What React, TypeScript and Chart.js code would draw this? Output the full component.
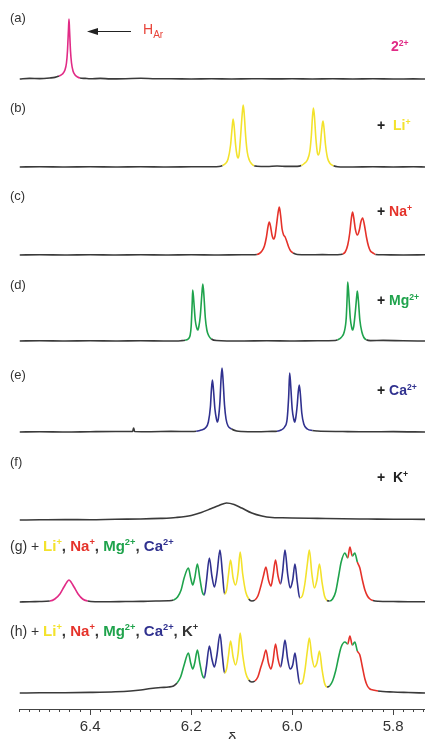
import React, { useEffect, useRef } from 'react';
import { Chart, registerables } from 'chart.js';
Chart.register(...registerables);

// ---- axis ----
const X_MIN = 5.737;
const X_MAX = 6.54;
const majorTicks = [5.8, 6.0, 6.2, 6.4];
const minorTicks = [
  5.74, 5.76, 5.78, 5.8, 5.82, 5.84, 5.86, 5.88, 5.9, 5.92, 5.94, 5.96, 5.98, 6.0,
  6.02, 6.04, 6.06, 6.08, 6.1, 6.12, 6.14, 6.16, 6.18, 6.2, 6.22, 6.24, 6.26, 6.28,
  6.3, 6.32, 6.34, 6.36, 6.38, 6.4, 6.42, 6.44, 6.46, 6.48, 6.5, 6.52, 6.54,
];

// ---- spectra: [delta (ppm), intensity above own baseline] ----
const specA: [number, number][] = [
  [6.54, 0], [6.52, 0.6], [6.5, 0.4], [6.48, 1.0], [6.47, 1.6], [6.462, 3], [6.455, 5], [6.45, 9],
  [6.447, 16], [6.445, 28], [6.443, 50], [6.442, 60], [6.441, 50], [6.439, 28], [6.437, 16],
  [6.434, 8], [6.43, 4], [6.425, 2], [6.42, 1], [6.41, 0.6], [6.4, 0.2], [6.38, 0.6], [6.36, 0.1],
  [6.33, 0.3], [6.3, 0.7], [6.27, 0.2], [6.24, 0.3], [6.2, 0], [6.16, 0.2], [6.12, 0], [6.08, 0.3],
  [6.04, 0.1], [6.0, 0.2], [5.96, 0], [5.92, 0.2], [5.88, 0], [5.84, 0.2], [5.8, 0], [5.76, 0.1], [5.737, 0],
];
const specB: [number, number][] = [
  [6.54, 0], [6.5, 0.3], [6.45, 0], [6.4, 0.2], [6.35, 0], [6.3, 0.3], [6.25, 0], [6.2, 0.2], [6.16, 0.3],
  [6.145, 0.5], [6.138, 1.5], [6.132, 3.5], [6.127, 8], [6.122, 22], [6.119, 39], [6.117, 48], [6.115, 41],
  [6.112, 22], [6.109, 11], [6.107, 9], [6.105, 13], [6.102, 32], [6.099, 53], [6.097, 62], [6.095, 53],
  [6.092, 30], [6.089, 15], [6.085, 7], [6.08, 3], [6.075, 1.2], [6.07, 0.8], [6.05, 0.5], [6.03, 1],
  [6.01, 0.6], [5.99, 0.6], [5.982, 1.4], [5.976, 3.5], [5.97, 7], [5.965, 16], [5.962, 32], [5.96, 49],
  [5.958, 59], [5.956, 51], [5.953, 28], [5.95, 14], [5.948, 12], [5.945, 18], [5.942, 35], [5.94, 44],
  [5.939, 46], [5.937, 39], [5.934, 22], [5.93, 9], [5.925, 3.5], [5.918, 1.2], [5.91, 0.3], [5.88, 0],
  [5.84, 0.2], [5.8, 0], [5.76, 0.2], [5.737, 0],
];
const specC: [number, number][] = [
  [6.54, 0], [6.5, 0.2], [6.45, 0], [6.4, 0.3], [6.35, 0], [6.3, 0.2], [6.25, 0], [6.2, 0.3], [6.15, 0],
  [6.1, 0.3], [6.08, 0.2], [6.07, 0.5], [6.065, 1.5], [6.06, 4], [6.055, 9], [6.051, 18], [6.048, 28],
  [6.0455, 33], [6.043, 29], [6.04, 20], [6.037, 16], [6.034, 19], [6.031, 30], [6.028, 42], [6.0255, 48],
  [6.023, 40], [6.02, 26], [6.017, 20], [6.014, 18], [6.011, 14], [6.007, 8], [6.003, 4], [5.998, 2],
  [5.99, 0.5], [5.97, 0.2], [5.94, 0.4], [5.915, 0.2], [5.905, 0.5], [5.9, 1], [5.895, 3], [5.89, 10],
  [5.886, 22], [5.883, 36], [5.8805, 43], [5.878, 37], [5.875, 26], [5.871, 20], [5.867, 25], [5.864, 33],
  [5.8605, 37], [5.857, 30], [5.853, 18], [5.849, 9], [5.845, 4], [5.84, 2], [5.835, 0.5], [5.82, 0.2],
  [5.78, 0], [5.737, 0.2],
];
const specD: [number, number][] = [
  [6.54, 0], [6.5, 0.3], [6.45, 0], [6.4, 0.2], [6.35, 0], [6.3, 0.3], [6.25, 0], [6.22, 0.3],
  [6.212, 0.8], [6.205, 2.5], [6.202, 6], [6.2, 15], [6.198, 38], [6.197, 51], [6.195, 41], [6.192, 21],
  [6.189, 13], [6.187, 11], [6.185, 14], [6.182, 25], [6.179, 46], [6.177, 57], [6.175, 47], [6.172, 23],
  [6.169, 11], [6.165, 5], [6.16, 2], [6.15, 0.5], [6.1, 0], [6.05, 0.3], [6.0, 0], [5.95, 0.3],
  [5.915, 0.5], [5.91, 1.2], [5.903, 3.5], [5.897, 9], [5.893, 23], [5.891, 46], [5.89, 59], [5.888, 47],
  [5.885, 23], [5.882, 13], [5.8805, 11], [5.878, 15], [5.875, 29], [5.872, 46], [5.871, 50], [5.869, 41],
  [5.866, 21], [5.862, 9], [5.858, 3.5], [5.853, 1.2], [5.845, 0.4], [5.82, 0.6], [5.78, 0.2], [5.737, 0],
];
const specE: [number, number][] = [
  [6.54, 0], [6.5, 0.3], [6.45, 0], [6.4, 0.3], [6.35, 0.5], [6.316, 0.5], [6.314, 4], [6.312, 0.5],
  [6.28, 0.3], [6.24, 0.6], [6.2, 0.5], [6.19, 0.8], [6.18, 2], [6.172, 4], [6.166, 10], [6.162, 25],
  [6.16, 42], [6.158, 52], [6.156, 43], [6.153, 23], [6.15, 13], [6.148, 10], [6.146, 14], [6.143, 31],
  [6.141, 52], [6.139, 64], [6.137, 53], [6.134, 27], [6.131, 13], [6.127, 6], [6.12, 3], [6.11, 1],
  [6.1, 0.5], [6.07, 0.3], [6.04, 0.6], [6.03, 0.8], [6.022, 2], [6.015, 5], [6.01, 13], [6.007, 35],
  [6.005, 59], [6.003, 47], [6.0, 23], [5.997, 13], [5.995, 10], [5.993, 14], [5.99, 27], [5.988, 40],
  [5.986, 47], [5.984, 39], [5.981, 19], [5.977, 8], [5.97, 3], [5.96, 1.5], [5.95, 1], [5.9, 0.5],
  [5.85, 0.2], [5.8, 0.4], [5.737, 0],
];
const specF: [number, number][] = [
  [6.54, 0], [6.5, 0.2], [6.45, 0.4], [6.4, 0.3], [6.35, 0.8], [6.3, 1], [6.26, 1.6], [6.23, 2.5],
  [6.2, 4.5], [6.18, 7.5], [6.16, 11.5], [6.145, 14.5], [6.13, 17], [6.115, 15.5], [6.1, 12], [6.08, 7],
  [6.06, 4], [6.04, 2.5], [6.02, 2.2], [6.0, 2], [5.95, 1.6], [5.9, 1.2], [5.85, 1], [5.8, 0.8], [5.737, 0.6],
];
const specG: [number, number][] = [
  [6.54, 0], [6.52, 0.3], [6.5, 0.5], [6.48, 1], [6.47, 3], [6.46, 8], [6.452, 15], [6.446, 20],
  [6.442, 22], [6.438, 20], [6.432, 15], [6.424, 8], [6.415, 3], [6.405, 1], [6.39, 0.3], [6.36, 0.2],
  [6.33, 0.5], [6.3, 0.6], [6.27, 1], [6.245, 1.2], [6.235, 2], [6.227, 5], [6.22, 12], [6.214, 24],
  [6.2055, 34], [6.201, 24], [6.197, 17], [6.193, 24], [6.1877, 38], [6.183, 24], [6.178, 10], [6.174, 7],
  [6.17, 20], [6.164, 44], [6.159, 26], [6.154, 15], [6.149, 28], [6.143, 52], [6.138, 28], [6.134, 8],
  [6.13, 12], [6.126, 28], [6.122, 42], [6.117, 24], [6.112, 17], [6.107, 30], [6.103, 50], [6.098, 28],
  [6.092, 10], [6.086, 3], [6.08, 1], [6.074, 2], [6.068, 6], [6.062, 16], [6.057, 26], [6.052, 35],
  [6.047, 22], [6.042, 16], [6.038, 26], [6.033, 42], [6.028, 26], [6.023, 18], [6.019, 30], [6.0143, 52],
  [6.009, 28], [6.004, 14], [5.999, 22], [5.9945, 38], [5.99, 20], [5.985, 4], [5.98, 6], [5.975, 18],
  [5.97, 38], [5.966, 52], [5.961, 28], [5.956, 14], [5.951, 22], [5.946, 38], [5.941, 20], [5.936, 6],
  [5.931, 1.5], [5.926, 1], [5.92, 3], [5.914, 10], [5.908, 26], [5.903, 40], [5.8955, 49], [5.89, 44],
  [5.8857, 55], [5.881, 46], [5.876, 49], [5.871, 40], [5.866, 34], [5.861, 22], [5.856, 12], [5.851, 6],
  [5.846, 3], [5.84, 1.5], [5.83, 0.8], [5.8, 0.5], [5.77, 0.3], [5.737, 0.3],
];
const specH: [number, number][] = [
  [6.54, 0], [6.5, 0.2], [6.45, 0.3], [6.4, 0.6], [6.35, 1.2], [6.32, 2], [6.3, 3], [6.28, 4.5],
  [6.26, 5.5], [6.245, 6], [6.235, 7], [6.228, 10], [6.221, 16], [6.214, 28], [6.2055, 40], [6.201, 30],
  [6.197, 24], [6.193, 30], [6.1877, 43], [6.183, 30], [6.178, 18], [6.174, 15], [6.17, 26], [6.164, 47],
  [6.159, 34], [6.154, 26], [6.149, 38], [6.143, 59], [6.138, 36], [6.134, 20], [6.13, 24], [6.126, 38],
  [6.122, 52], [6.117, 36], [6.112, 28], [6.107, 40], [6.103, 60], [6.098, 38], [6.092, 20], [6.086, 13],
  [6.08, 11], [6.074, 12], [6.068, 16], [6.062, 26], [6.057, 34], [6.052, 43], [6.047, 30], [6.042, 24],
  [6.038, 32], [6.033, 49], [6.028, 34], [6.023, 26], [6.019, 36], [6.0143, 53], [6.009, 34], [6.004, 24],
  [5.999, 28], [5.9945, 40], [5.99, 24], [5.985, 9], [5.98, 10], [5.975, 22], [5.97, 42], [5.966, 55],
  [5.961, 36], [5.956, 26], [5.951, 30], [5.946, 42], [5.941, 24], [5.936, 10], [5.931, 6], [5.926, 7],
  [5.92, 12], [5.914, 22], [5.908, 36], [5.903, 46], [5.8955, 51], [5.89, 49], [5.8857, 57], [5.881, 48],
  [5.876, 51], [5.871, 42], [5.866, 38], [5.861, 26], [5.856, 14], [5.851, 7], [5.846, 4], [5.84, 3],
  [5.83, 2], [5.8, 1], [5.77, 0.5], [5.737, 0],
];

// colour ranges per spectrum: [high delta, low delta, colour key]
type Range = [number, number, string];
const rangesA: Range[] = [[6.465, 6.42, 'pink']];
const rangesB: Range[] = [[6.14, 6.076, 'yellow'], [5.982, 5.916, 'yellow']];
const rangesC: Range[] = [[6.07, 6.0, 'red'], [5.9, 5.836, 'red']];
const rangesD: Range[] = [[6.212, 6.16, 'green'], [5.912, 5.855, 'green']];
const rangesE: Range[] = [[6.19, 6.122, 'blue'], [6.028, 5.957, 'blue']];
const rangesF: Range[] = [];
const rangesG: Range[] = [
  [6.48, 6.4, 'pink'], [6.236, 6.175, 'green'], [6.175, 6.133, 'blue'], [6.133, 6.086, 'yellow'],
  [6.072, 6.024, 'red'], [6.024, 5.985, 'blue'], [5.985, 5.93, 'yellow'], [5.924, 5.889, 'green'],
  [5.889, 5.882, 'red'], [5.882, 5.871, 'green'], [5.871, 5.838, 'red'],
];
const rangesH: Range[] = [
  [6.226, 6.175, 'green'], [6.175, 6.133, 'blue'], [6.133, 6.084, 'yellow'],
  [6.076, 6.024, 'red'], [6.024, 5.985, 'blue'], [5.985, 5.931, 'yellow'], [5.926, 5.889, 'green'],
  [5.889, 5.882, 'red'], [5.882, 5.871, 'green'], [5.871, 5.835, 'red'],
];

const spectra = [specA, specB, specC, specD, specE, specF, specG, specH];
const colourRanges = [rangesA, rangesB, rangesC, rangesD, rangesE, rangesF, rangesG, rangesH];
// vertical stacking offsets (layout)
const offsets = [630, 542, 454, 368, 277, 189, 107, 16];

const COLORS: Record<string, string> = {
  base: '#3a3a3a',
  pink: '#e12b86',
  yellow: '#f3e22c',
  red: '#e5322a',
  green: '#1fa34c',
  blue: '#30318f',
};

const FONT = '"Liberation Sans", Arial, Helvetica, sans-serif';

const extrasPlugin = {
  id: 'extras',
  afterDraw(chart: any) {
    const { ctx, chartArea, scales } = chart;
    const x = scales.x;
    const y = scales.y;
    ctx.save();
    ctx.strokeStyle = '#444';
    ctx.lineWidth = 1;
    for (const v of majorTicks) {
      const px = Math.round(x.getPixelForValue(v)) + 0.5;
      ctx.beginPath();
      ctx.moveTo(px, chartArea.bottom);
      ctx.lineTo(px, chartArea.bottom + 6);
      ctx.stroke();
    }
    // arrow pointing at the H_Ar peak of spectrum (a)
    const peakX = x.getPixelForValue(6.442);
    const ay = Math.round(y.getPixelForValue(offsets[0] + 48)) + 0.5;
    const tip = peakX + 18;
    ctx.strokeStyle = '#222';
    ctx.fillStyle = '#222';
    ctx.beginPath();
    ctx.moveTo(tip + 8, ay);
    ctx.lineTo(tip + 44, ay);
    ctx.stroke();
    ctx.beginPath();
    ctx.moveTo(tip, ay);
    ctx.lineTo(tip + 11, ay - 3.5);
    ctx.lineTo(tip + 11, ay + 3.5);
    ctx.closePath();
    ctx.fill();
    ctx.restore();
  },
};

function colourAt(ranges: Range[], mid: number) {
  for (const [hi, lo, key] of ranges) {
    if (mid <= hi && mid >= lo) return COLORS[key];
  }
  return COLORS.base;
}

const pos = (left: number, top: number): React.CSSProperties => ({
  position: 'absolute',
  left,
  top,
  transform: 'translateY(-50%)',
  lineHeight: 1,
  whiteSpace: 'nowrap',
});
const sup: React.CSSProperties = { fontSize: '0.62em', verticalAlign: '0.55em' };
const tag: React.CSSProperties = { fontSize: 13, color: '#333' };
const bold = (c: string, size = 14): React.CSSProperties => ({ fontWeight: 'bold', color: c, fontSize: size });

export default function App() {
  const ref = useRef<HTMLCanvasElement>(null);
  useEffect(() => {
    document.body.style.margin = '0';
    document.body.style.overflow = 'hidden';
    const datasets = spectra.map((s, i) => {
      const ranges = colourRanges[i];
      return {
        data: s.map(([d, v]) => ({ x: d, y: v + offsets[i] })),
        borderColor: COLORS.base,
        borderWidth: 1.6,
        pointRadius: 0,
        fill: false,
        cubicInterpolationMode: 'monotone' as const,
        segment: {
          borderColor: (ctx: any) => colourAt(ranges, (ctx.p0.parsed.x + ctx.p1.parsed.x) / 2),
        },
      };
    });
    const chart = new Chart(ref.current!, {
      type: 'line',
      data: { datasets },
      plugins: [extrasPlugin],
      options: {
        animation: false,
        responsive: false,
        devicePixelRatio: 1,
        layout: { padding: { left: 19.5, right: 0, top: 0, bottom: 0 } },
        plugins: { legend: { display: false }, tooltip: { enabled: false } },
        scales: {
          x: {
            type: 'linear',
            reverse: true,
            min: X_MIN,
            max: X_MAX,
            afterBuildTicks: (scale: any) => {
              scale.ticks = minorTicks.map((v) => ({ value: v }));
            },
            afterFit: (scale: any) => {
              scale.height = 30;
            },
            grid: { drawOnChartArea: false, tickLength: 3, color: '#444', tickColor: '#444' },
            border: { display: true, color: '#444', width: 1 },
            ticks: {
              autoSkip: false,
              maxRotation: 0,
              padding: 6,
              color: '#333',
              font: { family: FONT, size: 15 },
              callback: (v: any) => {
                const n = Number(v);
                return majorTicks.some((m) => Math.abs(m - n) < 1e-6) ? n.toFixed(1) : '';
              },
            },
          },
          y: { type: 'linear', display: false, min: 0, max: 709 },
        },
      },
    });
    return () => chart.destroy();
  }, []);

  return (
    <div style={{ position: 'relative', width: 425, height: 739, overflow: 'hidden', fontFamily: FONT, color: '#333' }}>
      <canvas ref={ref} width={425} height={739} style={{ display: 'block', position: 'absolute', left: 0, top: 0 }} />
      <span style={{ ...pos(10, 17), ...tag }}>(a)</span>
      <span style={{ ...pos(143, 31), fontSize: 14, color: '#e8453b' }}>
        H<sub style={{ fontSize: '0.72em', verticalAlign: '-0.35em' }}>Ar</sub>
      </span>
      <span style={{ ...pos(391, 46), ...bold(COLORS.pink) }}>
        2<span style={sup}>2+</span>
      </span>

      <span style={{ ...pos(10, 107), ...tag }}>(b)</span>
      <span style={{ ...pos(377, 125), fontSize: 14, fontWeight: 'bold', color: '#222' }}>
        +&nbsp;&nbsp;<span style={bold(COLORS.yellow)}>Li<span style={sup}>+</span></span>
      </span>

      <span style={{ ...pos(10, 195), ...tag }}>(c)</span>
      <span style={{ ...pos(377, 211), fontSize: 14, fontWeight: 'bold', color: '#222' }}>
        + <span style={bold(COLORS.red)}>Na<span style={sup}>+</span></span>
      </span>

      <span style={{ ...pos(10, 284), ...tag }}>(d)</span>
      <span style={{ ...pos(377, 300), fontSize: 14, fontWeight: 'bold', color: '#222' }}>
        + <span style={bold(COLORS.green)}>Mg<span style={sup}>2+</span></span>
      </span>

      <span style={{ ...pos(10, 374), ...tag }}>(e)</span>
      <span style={{ ...pos(377, 390), fontSize: 14, fontWeight: 'bold', color: '#222' }}>
        + <span style={bold(COLORS.blue)}>Ca<span style={sup}>2+</span></span>
      </span>

      <span style={{ ...pos(10, 461), ...tag }}>(f)</span>
      <span style={{ ...pos(377, 477), fontSize: 14, fontWeight: 'bold', color: '#222' }}>
        +&nbsp;&nbsp;K<span style={sup}>+</span>
      </span>

      <span style={{ ...pos(10, 545), fontSize: 14, color: '#333' }}>
        (g) + <span style={bold(COLORS.yellow, 15)}>Li<span style={sup}>+</span></span>
        <b style={{ fontSize: 15 }}>, </b><span style={bold(COLORS.red, 15)}>Na<span style={sup}>+</span></span>
        <b style={{ fontSize: 15 }}>, </b><span style={bold(COLORS.green, 15)}>Mg<span style={sup}>2+</span></span>
        <b style={{ fontSize: 15 }}>, </b><span style={bold(COLORS.blue, 15)}>Ca<span style={sup}>2+</span></span>
      </span>

      <span style={{ ...pos(10, 630), fontSize: 14, color: '#333' }}>
        (h) + <span style={bold(COLORS.yellow, 15)}>Li<span style={sup}>+</span></span>
        <b style={{ fontSize: 15 }}>, </b><span style={bold(COLORS.red, 15)}>Na<span style={sup}>+</span></span>
        <b style={{ fontSize: 15 }}>, </b><span style={bold(COLORS.green, 15)}>Mg<span style={sup}>2+</span></span>
        <b style={{ fontSize: 15 }}>, </b><span style={bold(COLORS.blue, 15)}>Ca<span style={sup}>2+</span></span>
        <b style={{ fontSize: 15 }}>, K<span style={sup}>+</span></b>
      </span>

      <span style={{ ...pos(228, 737), fontSize: 15, color: '#333' }}>δ</span>
    </div>
  );
}
